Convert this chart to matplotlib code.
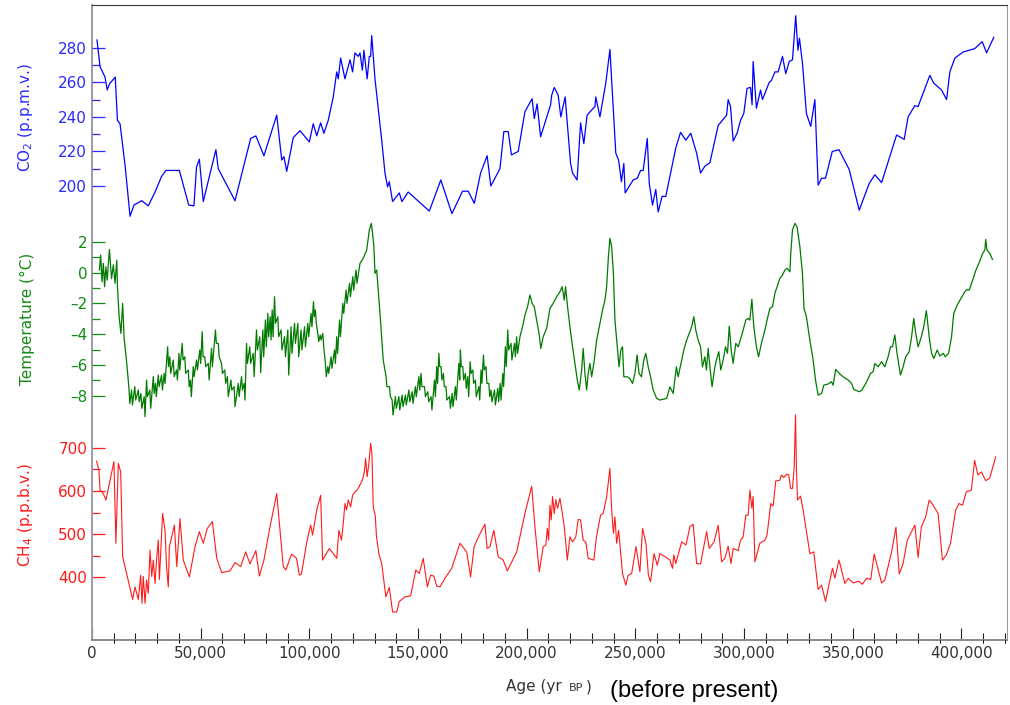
import numpy as np
import matplotlib.pyplot as plt
from matplotlib.ticker import FixedLocator, FuncFormatter

# --- data (age in years before present) ---
co2_age = [2300, 3700, 6000, 7000, 8000, 10700, 11400, 11700, 12900, 15300, 17500, 19300,
           22900, 25900, 29000, 32000, 34000, 40200, 44500, 46900, 48100, 49400, 51200, 57000,
           58100, 65800, 73000, 75400, 79100, 85000, 87300, 88300, 89600, 92600, 95700, 100000,
           101800, 103400, 105200, 106700, 108700, 111000, 112600, 113300, 114400, 116400, 118700,
           119900, 121000, 122500, 123300, 124400, 125100, 126600, 127600, 128200, 128700, 130200,
           133300, 134800, 136000, 136800, 138300, 141400, 142600, 145500, 155200, 160500, 165600,
           170500, 173100, 175900, 178800, 181800, 183500, 187700, 189500, 191500, 193000, 196100,
           199200, 202500, 203500, 204800, 206400, 211000, 211500, 212700, 214500, 215700, 217700,
           220200, 221100, 223200, 224800, 226300, 227800, 231400, 231800, 233700, 236400, 238300,
           241000, 242300, 243600, 244700, 245300, 249000, 250900, 252400, 253600, 255500, 256400,
           257900, 259400, 260500, 262300, 264000, 268600, 270800, 273200, 275500, 278200, 280000,
           282000, 284300, 288100, 292000, 292700, 293800, 295000, 296800, 298400, 299900, 301400,
           303000, 303700, 304200, 305700, 307600, 308500, 311600, 312600, 314200, 315700, 317700,
           319200, 320800, 322300, 323800, 324800, 325500, 326900, 328700, 330700, 332600, 334100,
           335700, 337500, 340600, 343700, 348400, 353000, 357600, 360200, 363300, 370200, 373700,
           375500, 378600, 380100, 385500, 387300, 390900, 393200, 394700, 397000, 400800, 406200,
           409600, 411600, 414900]
co2_val = [284.5, 269, 263, 255.5, 259, 263, 246, 238, 236, 211, 182.5, 189,
           191.5, 188.5, 196.5, 205.5, 209, 209, 189, 188.5, 211, 215.5, 191, 221,
           210, 191.5, 227.5, 229, 217.5, 241, 215, 217, 208.5, 228, 232, 225.5,
           236, 229, 236.5, 230.5, 238, 251.5, 266, 262, 274, 262, 273,
           266, 277, 275, 277, 267, 278.5, 262, 275, 275, 287, 262,
           226.5, 207.5, 199.5, 202.5, 191, 196, 191, 196.5, 185.5, 203.5, 184,
           197, 197, 190, 207.5, 217.5, 200, 210, 231.5, 231.5, 218, 220,
           243, 250.5, 239, 247.5, 228.5, 247, 252.5, 257, 252.5, 240, 251.5,
           213, 207.5, 203.5, 236.5, 224.5, 241, 246, 251.5, 240, 259.5, 279,
           219, 215, 202.5, 213, 196, 203.5, 204.5, 209, 209, 227.5, 201.5,
           189, 198, 185, 194, 194, 222, 231, 226.5, 230.5, 219, 207.5,
           211.5, 213.5, 235, 241, 250, 246, 226, 230.5, 238, 242, 256.5,
           257, 247, 272, 245, 255.5, 250, 260, 261, 266, 266, 275,
           265, 272, 273, 298.5, 278.5, 285.5, 271, 242, 234.5, 250, 200.5,
           204.5, 204.5, 220, 221, 209.5, 186, 201.5, 206.5, 202, 229.5, 227,
           240, 246.5, 246, 264, 259.5, 255.5, 250, 266, 274, 277.5, 279.5,
           283.5, 277, 286]

temp_age = [3400, 4000, 4600, 5200, 5800, 6400, 7000, 8000, 9000, 9800, 10600, 11400, 11700,
            12500, 13300, 14100, 14800, 16000,
            17000, 17400, 18200, 18600, 19700, 20100, 21300, 21700, 22500, 22900, 24000, 24400,
            25100, 25500, 26600, 27000, 28200, 28600, 29200, 29600, 30500, 30900, 32000, 32400,
            33200, 33600, 34800, 35200, 35800, 36200, 37400, 37800, 38900, 39300, 40000, 40400,
            41500, 41900, 42700, 43100, 44300, 44700, 45300, 45700, 46600, 47000, 48100, 48500,
            49600, 50000, 50700, 51100, 51900, 52300, 53500, 53900, 55000, 55400, 56800, 57200,
            58100, 58500, 59600, 60000, 61100, 61500, 62300, 62700, 63900, 64300, 65400, 65800,
            67300, 67700, 68800, 69200, 70000, 70400, 71100, 71500, 72600, 73000, 74200, 74600,
            75700, 76100, 77200, 77600,
            78600, 79000, 79800, 80200, 80900, 81300, 82000, 82400, 82900, 83300, 84000, 84400,
            85500, 85900, 87000, 87400, 88600, 89000, 90100, 90500, 91600, 92000, 93200, 93600,
            94700, 95100, 96200, 96600, 97800, 98200, 99300, 99700, 100800, 101200, 101900, 102300,
            102800, 103200, 103900, 104300, 105000, 105400, 106200, 106600, 107400, 107800, 108500,
            108900, 110000, 110400, 111600, 112000, 112600, 113000, 113900, 114300, 115400, 115800,
            116900, 117300, 118500, 118900, 120000, 120400, 121500, 121900,
            123300, 124800, 126400, 127600, 128500, 129100, 129700, 130200, 131000, 132500, 134000,
            135300, 135700, 136900, 137300, 138100, 138500, 139600, 140000, 141200, 141600, 142700,
            143100, 144200, 144600, 145800, 146200, 147300, 147700, 148800, 149200, 150400, 150800,
            151400, 151800, 153000, 153400, 154500, 154900, 156000, 156400, 157600, 158000, 158600,
            159000, 159600, 160000, 160600, 161000, 161700, 162100, 162900, 163300, 164500, 164900,
            165700, 166100, 167200, 167600, 168800, 169200, 169500, 169900, 170600, 171000, 171800,
            172200, 172900, 173300, 174000, 174400, 175200, 175600, 176400, 176800, 178000, 178400,
            179000, 179400, 180100, 180500, 181300, 181700, 182600, 183000, 183600, 184000, 185200,
            185600, 186700, 187100, 187800, 188200, 189000, 189400, 190200, 190600, 191300, 191700,
            192800, 193200, 194400, 194800, 195400, 195800,
            196900, 198100, 199200, 200400, 201500, 202500, 203500, 204600, 205800, 206500, 207600,
            209200, 210700, 212200, 213800, 215300, 216300, 217300, 217900, 218800, 219900,
            221100, 222200, 223300, 224200, 225300, 226000, 226800, 227600, 228300, 229100,
            229900, 230900, 232200, 233700, 234900, 236000, 236800, 237600, 238300, 239100,
            239900, 240600, 241700, 242500, 243300, 244100, 244700, 246300, 247500, 248700,
            249800, 250800, 251700, 252800, 253900, 254800, 255900, 257000, 258200, 259800,
            261300, 264400, 265900, 267400, 268900, 269700, 271300, 272300, 273600, 274800,
            275900, 276900, 277800, 278900, 280000, 280900, 282000, 282700, 283500, 284300,
            285300, 286600, 287300, 288400, 289300, 290400, 291500, 292400, 293200, 294100,
            295000, 296200, 297300, 298500, 299600, 300800, 301900, 302700, 303600, 304500,
            305700, 306700, 308000, 309600, 310600, 311900, 313100, 314200, 315200, 316500,
            317700, 318800, 319800, 321100, 321500, 322300, 323400, 324400, 325700, 326900,
            327600, 328700, 330300, 331800, 332900, 334100, 335700, 336700, 338700, 340200,
            341000, 342200, 343800, 345600, 347900, 349500, 350500, 353000, 354300, 356400,
            358200, 359400, 360200, 361700, 363300, 364800, 366300, 367400, 368300, 369400,
            370400, 372000, 373200, 374400, 376000, 377100, 378100, 379000, 380100, 381600,
            382700, 383900, 385200, 386300, 387300, 388900, 390100, 391700, 392600, 394100,
            395500, 396500, 398100, 400100, 401600, 402700, 403600, 405200, 406700, 408200,
            409800, 410800, 411200, 411800, 413100, 414300]
temp_val = [0.16, 1.13, -0.6, 0.6, -0.92, 0.38, -0.49, 1.5, -0.4, 0.5, -0.7, 0.8, -0.9,
            -2.9, -3.95, -2.0, -4.3, -5.9,
            -7.52, -8.5, -7.63, -8.6, -7.41, -8.28, -7.63, -8.39, -7.85, -8.82, -8.06, -9.36,
            -6.98, -8.06, -7.63, -8.82, -6.76, -7.85, -7.2, -8.06, -6.66, -7.41, -6.66, -7.63,
            -6.55, -7.2, -4.82, -6.11, -5.47, -6.55, -5.68, -6.76, -6.33, -6.98, -5.25, -6.33,
            -4.6, -5.68, -5.47, -6.55, -6.33, -7.41, -6.98, -8.06, -6.11, -6.76, -5.68, -6.33,
            -5.03, -5.9, -3.84, -5.47, -5.47, -6.11, -5.9, -6.98, -4.92, -6.11, -3.73, -4.6,
            -4.6, -5.47, -5.9, -6.55, -6.33, -7.2, -6.76, -8.06, -6.98, -7.63, -7.41, -8.71,
            -7.2, -8.06, -6.76, -7.63, -7.2, -8.28, -4.6, -5.9, -4.82, -5.9, -5.25, -6.76,
            -3.73, -5.03, -4.17, -6.5,
            -3.73, -5.47, -3.08, -4.82, -2.65, -4.17, -2.87, -4.38, -2.43, -4.17, -1.57, -3.3,
            -2.87, -4.17, -3.73, -5.03, -4.17, -5.47, -3.73, -6.66, -3.52, -5.25, -3.3, -4.6,
            -3.3, -5.47, -3.73, -5.03, -3.52, -4.82, -3.3, -4.17, -2.65, -3.52, -1.89, -2.87,
            -2.43, -3.3, -3.95, -4.49, -4.06, -4.38, -3.95, -4.82, -5.9, -6.76, -6.11,
            -6.55, -5.47, -6.22, -5.03, -5.9, -4.17, -5.25, -3.08, -4.17, -2.0, -2.65,
            -1.14, -2.0, -0.7, -1.57, -0.27, -1.14, 0.16, -0.7,
            0.59, 0.92, 1.46, 2.76, 3.19, 2.54, 1.68, -0.06, 0.16, -2.65, -5.68,
            -6.76, -7.41, -7.41, -8.06, -8.28, -9.25, -8.06, -8.82, -8.06, -8.93, -7.96,
            -8.71, -7.96, -8.6, -7.63, -8.39, -7.74, -8.5, -7.41, -8.06, -6.76, -7.63,
            -6.55, -7.41, -7.41, -8.06, -7.74, -8.39, -8.06, -8.93, -6.98, -8.06, -6.11,
            -7.2, -5.25, -6.11, -6.11, -6.98, -6.55, -7.41, -7.41, -8.28, -8.06, -8.82,
            -7.85, -8.71, -7.41, -8.28, -5.9, -6.98, -5.03, -6.11, -6.11, -6.98, -6.55,
            -7.52, -6.76, -8.06, -5.79, -6.55, -6.33, -7.2, -6.98, -8.06, -7.41, -8.28,
            -6.33, -7.2, -5.36, -6.33, -6.11, -7.2, -7.2, -8.06, -7.63, -8.39, -7.63,
            -8.6, -7.52, -8.39, -7.2, -8.28, -6.55, -7.41, -4.82, -6.11, -3.73, -5.03,
            -4.6, -5.68, -4.6, -5.47, -4.17, -5.25,
            -4.17, -3.52, -2.76, -2.22, -1.46, -2.0, -2.22, -3.09, -4.06, -4.93, -4.17,
            -3.63, -2.33, -2.0, -1.57, -1.25, -0.92, -1.79, -0.92, -2.22, -3.52,
            -4.82, -5.9, -6.98, -7.63, -6.33, -4.93, -6.55, -7.63, -6.55, -5.9,
            -6.77, -5.9, -4.39, -3.3, -2.44, -1.79, -0.92, 1.03, 2.22, 1.68,
            -0.06, -3.09, -4.82, -6.12, -5.03, -4.82, -6.77, -6.77, -6.88, -7.2,
            -6.55, -5.36, -6.55, -6.77, -5.68, -5.25, -6.12, -6.77, -7.63, -8.17,
            -8.28, -8.17, -7.42, -7.85, -6.12, -6.77, -5.68, -5.03, -4.39, -3.95,
            -3.52, -2.87, -3.74, -4.39, -4.82, -6.12, -5.47, -6.33, -4.93, -6.12,
            -7.42, -6.12, -5.68, -5.14, -6.33, -5.68, -4.82, -5.25, -3.48, -5.03,
            -5.9, -4.6, -4.82, -4.28, -3.74, -3.09, -2.98, -3.09, -1.74, -3.52,
            -4.82, -5.47, -4.6, -3.74, -3.09, -2.33, -2.22, -1.35, -0.92, -0.38,
            -0.16, 0.16, 0.27, 0.05, 1.24, 2.76, 3.19, 2.97, 1.68, -0.06,
            -2.33, -2.87, -4.39, -5.68, -6.98, -7.96, -7.85, -7.31, -7.24, -7.09,
            -7.31, -6.29, -6.55, -6.77, -6.98, -7.2, -7.59, -7.74, -7.63, -7.09,
            -6.55, -6.44, -5.9, -6.12, -5.79, -6.12, -5.47, -4.82, -4.82, -4.06,
            -5.25, -6.66, -6.12, -5.47, -5.14, -4.17, -2.98, -3.95, -4.82, -4.17,
            -3.52, -2.48, -4.17, -5.25, -5.58, -5.03, -5.42, -5.25, -5.47, -5.25,
            -4.17, -2.65, -2.11, -1.61, -1.25, -1.1, -1.14, -0.49, 0.16, 0.64,
            1.24, 1.46, 2.15, 1.46, 1.24, 0.85]

ch4_age = [2100, 3200, 3700, 5200, 6400, 8300, 10100, 11000, 12100, 13200, 14100, 15900,
           18700, 19800, 21300, 22400, 23000, 23600, 24400, 25100, 25900, 26700, 27500, 28200,
           29000, 29700, 30500, 31000, 32500, 33600, 34300, 35100, 35600, 36700, 37900, 39000,
           40500, 42000, 44800, 47400, 49400, 51200, 53000, 55400, 57400, 59700, 63500, 65800,
           68400, 70700, 72700, 75400, 77000, 79100, 81900, 85000, 88000, 89200, 91800, 94100,
           95400, 96400, 98700, 100600, 101500, 103400, 105200, 106100, 109200, 112600, 113600,
           114800, 115600, 116400, 117100, 117900, 119000, 119900, 121000, 122000, 123300, 124400,
           125300, 125900, 126600, 127400, 128200, 128800, 129400, 130300, 130900, 132100, 133300,
           135200, 136800, 138300, 140200, 141400, 144000, 146600, 149000, 150600, 152400, 154300,
           155800, 157300, 158600, 160100, 162400, 165500, 169300, 172400, 174200, 175800, 178200,
           180800, 181800, 183100, 184900, 186900, 189200, 191100, 195400, 199200, 202300, 203800,
           205800, 207600, 208800, 209500, 210100, 210700, 211300, 211900, 212700, 213400, 214200,
           215300, 216400, 217300, 218700, 219900, 221100, 222600, 223700, 224800, 226000, 227200,
           228300, 230900, 232100, 234000, 235200, 236800, 238300, 239100, 239900, 240600, 241400,
           242300, 243200, 244100, 245600, 246700, 248300, 250300, 252100, 253300, 254900, 256000,
           257000, 258600, 260100, 261300, 263600, 265900, 267100, 267700, 268600, 271300, 273300,
           275100, 276600, 278200, 280000, 282800, 284000, 286200, 288100, 289700, 291200, 292700,
           294000, 295000, 297300, 298400, 299600, 300800, 301900, 302700, 303600, 304200, 305000,
           307300, 309600, 310600, 312300, 313400, 314600, 316500, 317200, 318300, 319600, 320600,
           321400, 322300, 323100, 323700, 324100, 324600, 326000, 327200, 328400, 330300, 332100,
           334100, 335700, 337500, 339200, 340700, 341800, 343700, 346400, 348000, 350200, 352900,
           354400, 356400, 358300, 359900, 363300, 364800, 367900, 369900, 371400, 373200, 375100,
           378600, 380100, 381600, 383600, 385200, 387000, 389300, 391300, 393100, 395000, 397400,
           398900, 400500, 402300, 404600, 406100, 407600, 409200, 411200, 413000, 415800]
ch4_val = [669, 648, 602, 594, 579, 625, 668, 479, 664, 644, 448, 409,
           349, 378, 349, 405, 340, 402, 340, 394, 363, 463, 402, 440,
           386, 440, 486, 395, 548, 509, 425, 378, 471, 494, 521, 425,
           536, 440, 401, 471, 506, 479, 513, 529, 444, 411, 415, 434,
           425, 459, 431, 462, 403, 440, 517, 594, 425, 417, 454, 444,
           405, 408, 479, 521, 498, 556, 590, 440, 467, 444, 509,
           486, 525, 571, 556, 579, 563, 590, 598, 602, 614, 625,
           644, 675, 633, 664, 710, 687, 563, 544, 494, 452, 432,
           355, 377, 320, 320, 344, 355, 357, 417, 409, 444, 378,
           405, 403, 380, 378, 398, 421, 479, 459, 401, 471, 498,
           523, 467, 471, 509, 448, 440, 415, 459, 548, 611, 517,
           413, 471, 475, 513, 486, 567, 533, 587, 548, 580, 560,
           583, 548, 517, 440, 494, 482, 494, 534, 533, 486, 482,
           444, 440, 494, 544, 548, 587, 652, 556, 502, 540, 479,
           509, 459, 409, 382, 405, 409, 471, 413, 513, 479, 405,
           390, 455, 428, 455, 448, 440, 421, 452, 432, 482, 475,
           517, 523, 432, 431, 506, 467, 482, 521, 436, 444, 472,
           432, 467, 462, 486, 494, 544, 544, 602, 560, 587, 436,
           479, 486, 498, 571, 565, 623, 625, 637, 631, 639, 637,
           606, 606, 656, 776, 656, 579, 588, 556, 517, 455, 459,
           372, 382, 344, 386, 421, 398, 440, 386, 398, 387, 391,
           384, 398, 395, 454, 387, 394, 459, 516, 408, 432, 486,
           521, 446, 517, 540, 579, 567, 548, 440, 452, 479, 556,
           571, 567, 598, 602, 671, 637, 644, 624, 629, 679]

co2_ticks = [200, 220, 240, 260, 280]
temp_ticks = [-8, -6, -4, -2, 0, 2]
temp_labels = ['\u20138', '\u20136', '\u20134', '\u20132', '0', '2']
ch4_ticks = [400, 500, 600, 700]
age_ticks = [0, 50000, 100000, 150000, 200000, 250000, 300000, 350000, 400000]

blue = '#2a2aff'
green = '#138a13'
red = '#ff1a1a'

fig = plt.figure(figsize=(10.1, 7.05), dpi=100)
rect = [92 / 1010, 1 - 640 / 705, 915 / 1010, 635 / 705]
ax = fig.add_axes(rect)               # CH4, owns the frame and the age axis
ax_t = fig.add_axes(rect, sharex=ax)  # temperature
ax_c = fig.add_axes(rect, sharex=ax)  # CO2

ax.plot(ch4_age, ch4_val, color=red, lw=0.8)
ax_t.plot(temp_age, temp_val, color='#007a00', lw=0.9)
ax_c.plot(co2_age, co2_val, color='#0000ff', lw=0.9)

ax.set_xlim(0, 421000)
ax.set_ylim(255, 1725)
ax_t.set_ylim(-23.86, 17.37)
ax_c.set_ylim(-62.6, 304.7)

for a in (ax_t, ax_c):
    a.patch.set_visible(False)
    for s in a.spines.values():
        s.set_visible(False)
    a.tick_params(axis='x', bottom=False, labelbottom=False)

ax.spines['left'].set_color('#9a9aa8')
ax.spines['left'].set_linewidth(1.4)
ax.spines['bottom'].set_color('#8a8a8a')
ax.spines['bottom'].set_linewidth(1.4)
ax.spines['top'].set_color('#3a3a3a')
ax.spines['right'].set_color('#9a9a9a')

# age axis
ax.xaxis.set_major_locator(FixedLocator(age_ticks))
ax.xaxis.set_minor_locator(FixedLocator(np.arange(10000, 420001, 10000)))
ax.xaxis.set_major_formatter(FuncFormatter(lambda v, p: f'{int(v):,}'))
ax.tick_params(axis='x', which='major', direction='in', length=8.6, width=0.8,
               color='#222222', labelsize=11, labelcolor='#333333', pad=4)
ax.tick_params(axis='x', which='minor', direction='in', length=5, width=0.8, color='#222222')


def style_y(a, major, minor, col, txt, ypos):
    a.yaxis.set_major_locator(FixedLocator(major))
    a.yaxis.set_minor_locator(FixedLocator(minor))
    a.tick_params(axis='y', which='major', direction='in', length=9.5, width=0.9,
                  color=col, labelcolor=col, labelsize=11, pad=3.5)
    a.tick_params(axis='y', which='minor', direction='in', length=5.5, width=0.9, color=col)
    a.set_ylabel(txt, color=col, fontsize=11)
    a.yaxis.set_label_coords(-0.0623, ypos)


style_y(ax_c, co2_ticks, [210, 230, 250, 270], blue, 'CO$_2$ (p.p.m.v.)', 0.8236)
style_y(ax_t, temp_ticks, [-7, -5, -3, -1, 1], green, 'Temperature (°C)', 0.5055)
style_y(ax, ch4_ticks, [450, 550, 650], red, 'CH$_4$ (p.p.b.v.)', 0.1969)
ax_t.set_yticklabels(temp_labels)

# x label: "Age (yr BP)" with small-caps BP, plus the added note
fig.text(506 / 1010, 1 - 691 / 705, 'Age (yr', fontsize=11, color='#333333', va='baseline')
fig.text(569 / 1010, 1 - 691 / 705, 'BP', fontsize=8, color='#333333', va='baseline')
fig.text(586 / 1010, 1 - 691 / 705, ')', fontsize=11, color='#333333', va='baseline')
fig.text(610 / 1010, 1 - 697 / 705, '(before present)', fontsize=17, color='black',
         family='Liberation Sans', va='baseline')

fig.savefig('out.png', dpi=100)
